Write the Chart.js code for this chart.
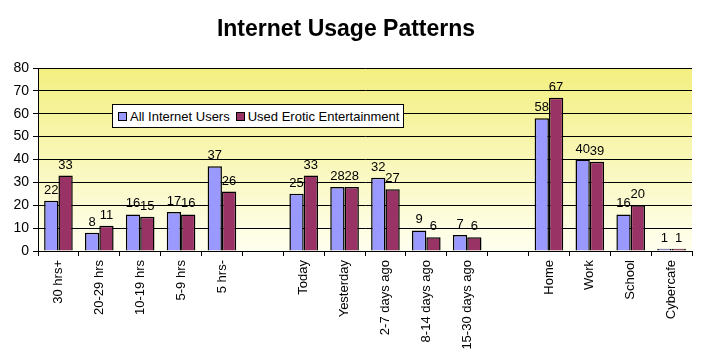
<!DOCTYPE html>
<html lang="en">
<head>
<meta charset="UTF-8" />
<title>Internet Usage Patterns</title>
<script src="https://cdn.jsdelivr.net/npm/chart.js"></script>
<style>
  html, body { margin: 0; padding: 0; background: #fff; }
  #wrap { position: relative; width: 701px; height: 363px; }
  #legend {
    position: absolute; left: 112px; top: 104px; width: 292px; height: 24px;
    background: #fff; border: 1px solid #000;
    font: 13px Arial, 'Liberation Sans', sans-serif; color: #000;
    display: flex; align-items: center; padding-left: 5px; box-sizing: border-box; white-space: nowrap;
  }
  #legend span.sw { display: inline-block; width: 7px; height: 7px; border: 1px solid #000; margin-right: 3px; }
  #legend span.item { margin-right: 6px; display: flex; align-items: center; }
</style>
</head>
<body>
<div id="wrap">
  <canvas id="chart" width="701" height="363"></canvas>
  <div id="legend"></div>
</div>
<script>
// data
const categories = ['30 hrs+', '20-29 hrs', '10-19 hrs', '5-9 hrs', '5 hrs-', '',
  'Today', 'Yesterday', '2-7 days ago', '8-14 days ago', '15-30 days ago', '',
  'Home', 'Work', 'School', 'Cybercafe'];
const allUsers = [22, 8, 16, 17, 37, null, 25, 28, 32, 9, 7, null, 58, 40, 16, 1];
const eroticUsers = [33, 11, 15, 16, 26, null, 33, 28, 27, 6, 6, null, 67, 39, 20, 1];
const seriesNames = ['All Internet Users', 'Used Erotic Entertainment'];
const seriesColors = ['#9999FF', '#993366'];
const yTicks = [0, 10, 20, 30, 40, 50, 60, 70, 80];

const FONT = "Arial, 'Liberation Sans', sans-serif";

// legend box
const $legend = document.getElementById('legend');
seriesNames.forEach((n, i) => {
  const it = document.createElement('span'); it.className = 'item';
  const sw = document.createElement('span'); sw.className = 'sw'; sw.style.background = seriesColors[i];
  it.appendChild(sw); it.appendChild(document.createTextNode(n));
  $legend.appendChild(it);
});

const plotBg = {
  id: 'plotBg',
  beforeDraw(chart) {
    const { ctx, chartArea: a } = chart;
    const g = ctx.createLinearGradient(0, a.top, 0, a.bottom);
    g.addColorStop(0, '#F3EF80');
    g.addColorStop(1, '#FFFFF0');
    ctx.save();
    ctx.fillStyle = g;
    ctx.fillRect(a.left, a.top, a.right - a.left, a.bottom - a.top);
    ctx.restore();
  }
};

const valueLabels = {
  id: 'valueLabels',
  afterDatasetsDraw(chart) {
    const ctx = chart.ctx;
    ctx.save();
    ctx.font = '13px ' + FONT;
    ctx.fillStyle = '#000';
    ctx.textAlign = 'center';
    ctx.textBaseline = 'bottom';
    chart.data.datasets.forEach((ds, di) => {
      chart.getDatasetMeta(di).data.forEach((bar, i) => {
        const v = ds.data[i];
        if (v == null) return;
        ctx.fillText(String(v), bar.x, bar.y - 4);
      });
    });
    ctx.restore();
  }
};

new Chart(document.getElementById('chart'), {
  type: 'bar',
  data: {
    labels: categories,
    datasets: seriesNames.map((n, i) => ({
      label: n,
      data: i === 0 ? allUsers : eroticUsers,
      backgroundColor: seriesColors[i],
      borderColor: '#000',
      borderWidth: 1.5,
      categoryPercentage: 0.7,
      barPercentage: 1.0
    }))
  },
  options: {
    responsive: false,
    animation: false,
    layout: { padding: { left: 0, right: 9, top: 0, bottom: 0 } },
    plugins: {
      legend: { display: false },
      tooltip: { enabled: false },
      title: {
        display: true,
        text: 'Internet Usage Patterns',
        color: '#000',
        font: { family: FONT, size: 23, weight: 'bold', lineHeight: 1.2 },
        padding: { top: 16, bottom: 24.4 }
      }
    },
    scales: {
      x: {
        afterFit(s) { s.height = 112; },
        grid: { drawOnChartArea: false, color: '#000', tickLength: 5, offset: true },
        border: { color: '#000', width: 1 },
        ticks: {
          color: '#000', font: { family: FONT, size: 13 },
          maxRotation: 90, minRotation: 90, autoSkip: false, padding: 4
        }
      },
      y: {
        min: 0, max: 80,
        afterFit(s) { s.width = 38; },
        afterBuildTicks(s) { s.ticks = yTicks.map(v => ({ value: v })); },
        grid: { color: '#000', tickLength: 5 },
        border: { color: '#000', width: 1 },
        ticks: { color: '#000', font: { family: FONT, size: 14 }, padding: 4 }
      }
    }
  },
  plugins: [plotBg, valueLabels]
});
</script>
</body>
</html>
